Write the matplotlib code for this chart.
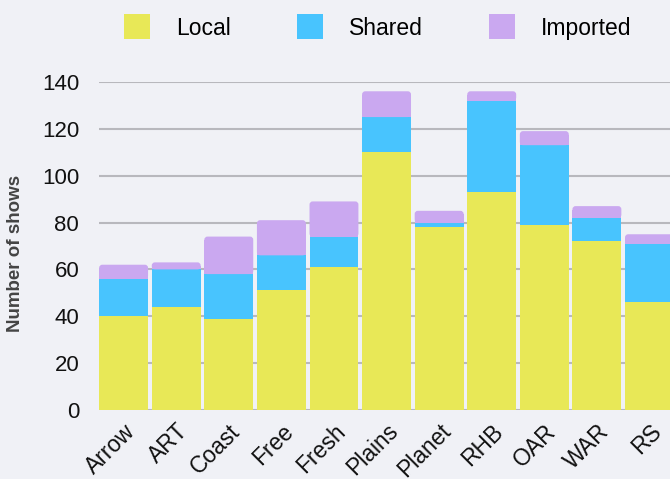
import matplotlib.pyplot as plt
from matplotlib.patches import FancyBboxPatch
import numpy as np

plt.rcParams['font.family'] = ['Liberation Sans', 'DejaVu Sans']

stations = ["Arrow", "ART", "Coast", "Free", "Fresh", "Plains", "Planet", "RHB", "OAR", "WAR", "RS"]
local = [40, 44, 39, 51, 61, 110, 78, 93, 79, 72, 46]
shared = [16, 16, 19, 15, 13, 15, 2, 39, 34, 10, 25]
imported = [6, 3, 16, 15, 15, 11, 5, 4, 6, 5, 4]

c_local = "#e8e857"
c_shared = "#48c4fe"
c_imported = "#caa8f0"
bg = "#f0f1f6"

fig = plt.figure(figsize=(6.7, 4.79), dpi=100, facecolor=bg)
ax = fig.add_axes([0.148, 0.144, 0.852, 0.685], facecolor=bg)

x = np.arange(len(stations))
w = 0.93
local = np.array(local)
shared = np.array(shared)
imported = np.array(imported)

ax.set_xlim(-0.465, 10.39)
ax.set_ylim(0, 140)

ax.bar(x, local, w, color=c_local, zorder=3, label="Local")
ax.bar(x, shared, w, bottom=local, color=c_shared, zorder=3, label="Shared")

# top segment: square lower half plus a rounded cap
base = local + shared
r_y = 1.5
ax.bar(x, imported - r_y, w, bottom=base, color=c_imported, zorder=3, label="Imported")
aspect = (140 / (0.685 * 479)) / (10.855 / (0.852 * 670))
for xi, b, h in zip(x, base, imported):
    p = FancyBboxPatch((xi - w / 2, b), w, h,
                       boxstyle="round,pad=0,rounding_size=0.06",
                       mutation_aspect=aspect, fc=c_imported, ec="none", zorder=3)
    ax.add_patch(p)

ax.set_yticks(range(0, 141, 20))
ax.yaxis.grid(True, color="#b8b8bd", linewidth=1.5, zorder=0)
ax.set_axisbelow(True)
for s in ax.spines.values():
    s.set_visible(False)
ax.tick_params(axis="both", length=0, colors="#111111")
ax.tick_params(axis="y", pad=14.4, labelsize=16)
ax.set_xticks(x)
ax.set_xticklabels(stations, rotation=45, ha="right", rotation_mode="anchor")
ax.tick_params(axis="x", pad=7, labelsize=16.5)

ax.set_ylabel("Number of shows", fontsize=13.5, fontweight="bold", color="#444444")
ax.yaxis.set_label_coords(-0.132, 0.476)

fig.legend(loc="upper left", bbox_to_anchor=(0.185, 0.970), ncol=3, frameon=False,
           fontsize=16.5, handlelength=1.13, handleheight=1.3, handletextpad=1.13,
           columnspacing=2.9, borderpad=0, borderaxespad=0)

fig.savefig("out.png", dpi=100, facecolor=bg)
